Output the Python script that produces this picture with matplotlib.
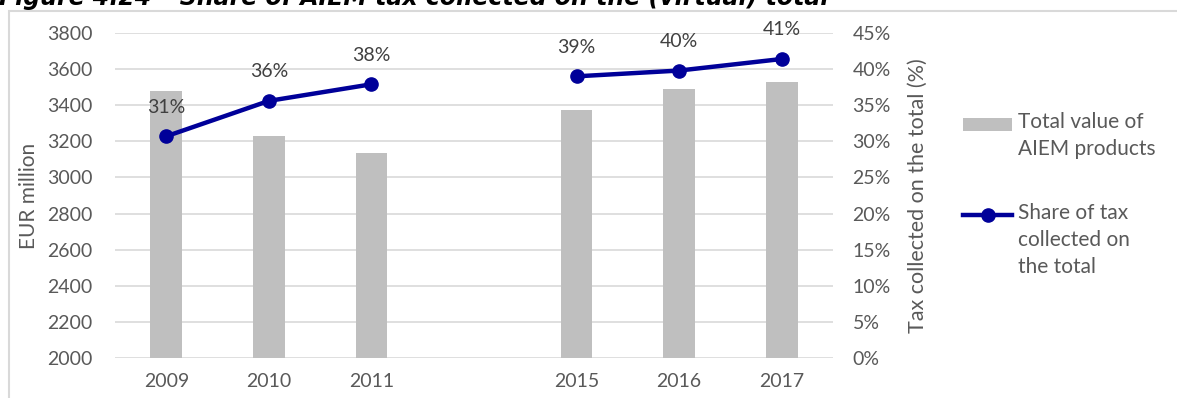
import matplotlib
matplotlib.use("Agg")
import matplotlib.pyplot as plt
from matplotlib.patches import Rectangle
from matplotlib.lines import Line2D
import numpy as np

# ---- data ----
categories = ["2009", "2010", "2011", "", "2015", "2016", "2017"]
total_value = [3480, 3232, 3133, np.nan, 3375, 3490, 3530]       # EUR million
tax_share = [30.7, 35.6, 37.9, np.nan, 39.0, 39.8, 41.4]         # %
share_labels = ["31%", "36%", "38%", "", "39%", "40%", "41%"]
left_ticks = [2000, 2200, 2400, 2600, 2800, 3000, 3200, 3400, 3600, 3800]
right_ticks = [0, 5, 10, 15, 20, 25, 30, 35, 40, 45]

title = "Figure 4.24 \u2013 Share of AIEM tax collected on the (virtual) total"
bar_label = "Total value of\nAIEM products"
line_label = "Share of tax\ncollected on\nthe total"

FONT = "Lato"
FS = 14
TICK_C = "#595959"
LABEL_C = "#404040"
BAR_C = "#BFBFBF"
LINE_C = "#000099"
GRID_C = "#D9D9D9"

W, H = 1177, 398
fig = plt.figure(figsize=(W / 100, H / 100), dpi=100)

def px(x0, y0, x1, y1):
    return [x0 / W, 1 - y1 / H, (x1 - x0) / W, (y1 - y0) / H]

ax = fig.add_axes(px(115, 33, 833, 358))
x = np.arange(len(categories))

ax.bar(x, total_value, width=0.31, color=BAR_C, zorder=2)
ax.set_ylim(2000, 3800)
ax.set_yticks(left_ticks)
ax.set_xlim(-0.5, len(categories) - 0.5)
ax.set_xticks(x)
ax.set_xticklabels(categories)
ax.yaxis.grid(True, color=GRID_C, linewidth=1.2, zorder=0)
ax.set_axisbelow(True)
for s in ax.spines.values():
    s.set_visible(False)
ax.tick_params(axis="both", length=0, labelsize=FS, labelcolor=TICK_C)
ax.tick_params(axis="y", pad=16)
ax.tick_params(axis="x", pad=11)
for lab in ax.get_xticklabels() + ax.get_yticklabels():
    lab.set_fontfamily(FONT)
ax.set_ylabel("EUR million", fontsize=FS + 1, color=TICK_C, fontfamily=FONT, labelpad=6)

ax2 = ax.twinx()
ax2.set_ylim(0, 45)
ax2.set_yticks(right_ticks)
ax2.set_yticklabels([f"{t}%" for t in right_ticks])
for s in ax2.spines.values():
    s.set_visible(False)
ax2.tick_params(axis="y", length=0, labelsize=FS, labelcolor=TICK_C, pad=14)
for lab in ax2.get_yticklabels():
    lab.set_fontfamily(FONT)
ax2.set_ylabel("Tax collected on the total (%)", fontsize=FS + 1.5, color=TICK_C,
               fontfamily=FONT, labelpad=12)

# NaN breaks the line between 2011 and 2015
ax2.plot(x, tax_share, color=LINE_C, linewidth=3.2, marker="o", markersize=9.5,
         solid_capstyle="round", zorder=5)
for xi, v, lab in zip(x, tax_share, share_labels):
    if np.isnan(v):
        continue
    ax2.annotate(lab, (xi, v), xytext=(0, 21), textcoords="offset points",
                 ha="center", va="center", fontsize=FS, color=LABEL_C, fontfamily=FONT)

# ---- border around chart ----
fig.patches.append(Rectangle((9 / W, -0.05), 1.2, 1 - 11 / H + 0.05,
                             transform=fig.transFigure, fill=False,
                             edgecolor=GRID_C, linewidth=1.5, zorder=0))

# ---- title (clipped at top) ----
fig.text(-0.001, 1 - 5 / H, title, fontsize=17, fontweight="bold", fontstyle="italic",
         fontfamily="DejaVu Sans", va="baseline", ha="left", color="black")

# ---- legend (manual, Excel style) ----
fig.patches.append(Rectangle((963 / W, 1 - 131 / H), 49 / W, 13 / H,
                             transform=fig.transFigure, facecolor=BAR_C, edgecolor="none"))
fig.lines.append(Line2D([963 / W, 1012 / W], [1 - 215 / H, 1 - 215 / H],
                        transform=fig.transFigure, color=LINE_C, linewidth=3.2))
fig.lines.append(Line2D([988 / W], [1 - 215 / H], transform=fig.transFigure,
                        color=LINE_C, marker="o", markersize=9.5, linestyle="none"))
fig.text(1018 / W, 1 - 112 / H, bar_label, fontsize=FS + 1, color=TICK_C,
         fontfamily=FONT, va="top", ha="left", linespacing=1.45)
fig.text(1018 / W, 1 - 203 / H, line_label, fontsize=FS + 1, color=TICK_C,
         fontfamily=FONT, va="top", ha="left", linespacing=1.45)

fig.savefig("out.png", dpi=100)
